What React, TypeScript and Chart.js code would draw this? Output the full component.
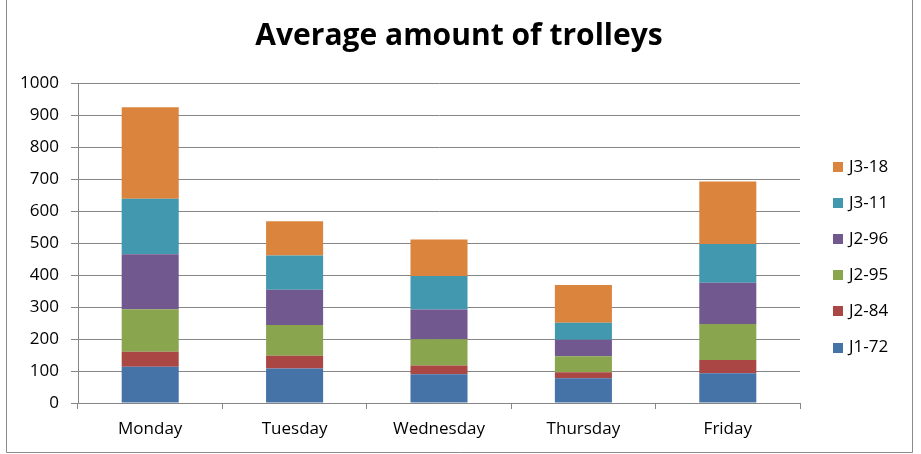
import React, { useEffect, useRef } from "react";
import { Chart, registerables } from "chart.js";

Chart.register(...registerables);

const categories = ["Monday", "Tuesday", "Wednesday", "Thursday", "Friday"];
const seriesNames = ["J1-72", "J2-84", "J2-95", "J2-96", "J3-11", "J3-18"];
const j172 = [113, 108, 90, 77, 93];
const j284 = [47, 40, 27, 19, 41];
const j295 = [133, 96, 82, 50, 113];
const j296 = [172, 110, 93, 52, 129];
const j311 = [173, 107, 105, 53, 121];
const j318 = [286, 107, 114, 118, 195];
const seriesValues = [j172, j284, j295, j296, j311, j318];
const seriesColors = ["#4572A7", "#AA4643", "#89A54E", "#71588F", "#4198AF", "#DB843D"];
const yTicks = [0, 100, 200, 300, 400, 500, 600, 700, 800, 900, 1000];
const titleText = "Average amount of trolleys";

const FONT = "'Open Sans', 'Noto Sans', sans-serif";
const GRID = "#868686";

const decorPlugin = {
  id: "decor",
  afterDraw(chart: any) {
    const ctx = chart.ctx;
    ctx.save();
    // outer frame
    ctx.strokeStyle = "#8a8a8a";
    ctx.lineWidth = 1;
    ctx.beginPath();
    ctx.moveTo(6.5, -2);
    ctx.lineTo(6.5, 452.5);
    ctx.lineTo(912.5, 452.5);
    ctx.lineTo(912.5, -2);
    ctx.stroke();
    // title
    ctx.fillStyle = "#000";
    ctx.font = `bold 30px ${FONT}`;
    ctx.textAlign = "center";
    ctx.textBaseline = "alphabetic";
    ctx.fillText(titleText, 459, 45);
    // legend (reversed order)
    ctx.font = `17px ${FONT}`;
    ctx.textAlign = "left";
    ctx.textBaseline = "middle";
    const ds = chart.data.datasets;
    const n = ds.length;
    for (let i = 0; i < n; i++) {
      const d = ds[n - 1 - i];
      const cy = 167 + i * 36.1;
      ctx.fillStyle = d.backgroundColor;
      ctx.fillRect(833, Math.round(cy - 5), 10, 10);
      ctx.fillStyle = "#000";
      ctx.fillText(d.label, 849, cy);
    }
    ctx.restore();
  },
};

export default function App() {
  const ref = useRef<HTMLCanvasElement>(null);
  useEffect(() => {
    if (!ref.current) return;
    const chart = new Chart(ref.current, {
      type: "bar",
      data: {
        labels: categories,
        datasets: seriesNames.map((name, i) => ({
          label: name,
          data: seriesValues[i],
          backgroundColor: seriesColors[i],
          borderWidth: 0,
          categoryPercentage: 1,
          barPercentage: 0.395,
        })),
      },
      options: {
        animation: false,
        responsive: false,
        devicePixelRatio: 1,
        layout: { padding: { top: 83, right: 121, bottom: 0, left: 0 } },
        plugins: {
          legend: { display: false },
          title: { display: false },
          tooltip: { enabled: false },
        },
        scales: {
          x: {
            stacked: true,
            grid: {
              offset: true,
              drawOnChartArea: false,
              drawTicks: true,
              tickLength: 6,
              color: GRID,
            },
            border: { color: GRID },
            ticks: { color: "#000", font: { family: FONT, size: 17 }, padding: 10 },
            afterFit(scale: any) {
              scale.height = 51;
            },
          },
          y: {
            stacked: true,
            min: 0,
            max: 1000,
            afterBuildTicks(scale: any) {
              scale.ticks = yTicks.map((v) => ({ value: v }));
            },
            grid: { color: GRID, tickLength: 7 },
            border: { color: GRID },
            ticks: {
              color: "#000",
              font: { family: FONT, size: 17 },
              padding: 12,
              callback: (v: any) => String(v),
            },
            afterFit(scale: any) {
              scale.width = 78;
            },
          },
        },
      },
      plugins: [decorPlugin],
    });
    return () => chart.destroy();
  }, []);
  return (
    <div style={{ position: "absolute", left: 0, top: 0, width: 921, height: 454, background: "#fff" }}>
      <canvas ref={ref} width={921} height={454} style={{ display: "block" }} />
    </div>
  );
}
